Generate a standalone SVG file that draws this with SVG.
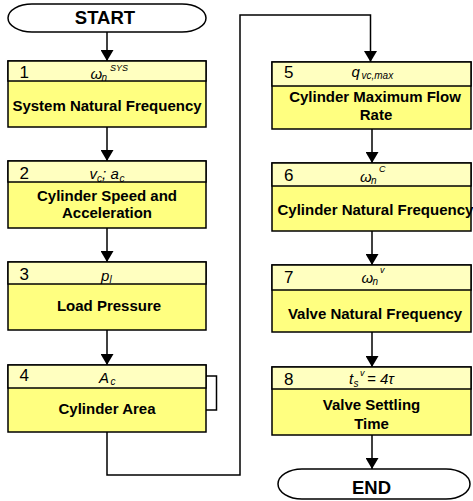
<svg xmlns="http://www.w3.org/2000/svg" width="473" height="501" viewBox="0 0 473 501">
<style>
.body{fill:#FFFF80;stroke:#000;stroke-width:1.5}
.head{fill:#FFFFC0;stroke:#000;stroke-width:1.5}
.term{fill:#fff;stroke:#000;stroke-width:1.5}
.lbl{font-family:"Liberation Sans",Arial,sans-serif;font-weight:bold;font-size:15px;fill:#000;text-anchor:middle}
.ttl{font-family:"Liberation Sans",Arial,sans-serif;font-weight:bold;font-size:18.5px;fill:#000;text-anchor:middle}
.num{font-family:"Liberation Sans",Arial,sans-serif;font-size:17px;fill:#000}
.sym{font-family:"Liberation Sans",Arial,sans-serif;font-style:italic;font-size:15px;fill:#000}
.sub{font-family:"Liberation Sans",Arial,sans-serif;font-style:italic;font-size:10px;fill:#000}
.sup{font-family:"Liberation Sans",Arial,sans-serif;font-style:italic;font-size:9px;fill:#000}
.conn{fill:none;stroke:#000;stroke-width:1.5}
</style>
<defs>
<marker id="arr" viewBox="0 0 11 13" refX="11" refY="6.5" markerWidth="11" markerHeight="13" markerUnits="userSpaceOnUse" orient="auto">
<path d="M0,0 L11,6.5 L0,13 z" fill="#000"/>
</marker>
</defs>

<g id="connectors">
<path class="conn" d="M107,32 V61" marker-end="url(#arr)"/>
<path class="conn" d="M107,127 V161" marker-end="url(#arr)"/>
<path class="conn" d="M107,228 V262" marker-end="url(#arr)"/>
<path class="conn" d="M107,330 V365" marker-end="url(#arr)"/>
<path class="conn" d="M206,376 H216.5 V410 H206"/>
<path class="conn" d="M107,432 V475 H240 V15 H370.5 V62" marker-end="url(#arr)"/>
<path class="conn" d="M372,129 V163" marker-end="url(#arr)"/>
<path class="conn" d="M372,231 V265" marker-end="url(#arr)"/>
<path class="conn" d="M372,332 V367" marker-end="url(#arr)"/>
<path class="conn" d="M372,435 V469" marker-end="url(#arr)"/>
</g>

<g id="start">
<rect class="term" x="8" y="4" width="198" height="28" rx="24" ry="14"/>
<text class="ttl" x="105" y="23.5">START</text>
</g>

<g id="n1">
<rect class="body" x="8" y="61" width="198" height="66"/>
<rect class="head" x="8" y="61" width="198" height="20"/>
<text class="num" x="19.5" y="78">1</text>
<text class="sym" x="90.5" y="78.5">ω</text>
<text class="sub" x="101.5" y="81">n</text>
<text class="sup" x="110" y="71">SYS</text>
<text class="lbl" x="107" y="111">System Natural Frequency</text>
</g>

<g id="n2">
<rect class="body" x="8" y="161" width="198" height="67"/>
<rect class="head" x="8" y="161" width="198" height="21"/>
<text class="num" x="19.5" y="179">2</text>
<text class="sym" x="89.5" y="179">v</text>
<text class="sub" x="97" y="181.5">c</text>
<text class="sym" x="102" y="179">;</text>
<text class="sym" x="110.5" y="179">a</text>
<text class="sub" x="119.5" y="181.5">c</text>
<text class="lbl" x="107" y="201">Cylinder Speed and</text>
<text class="lbl" x="107" y="218">Acceleration</text>
</g>

<g id="n3">
<rect class="body" x="8" y="262" width="198" height="68"/>
<rect class="head" x="8" y="262" width="198" height="22"/>
<text class="num" x="19.5" y="280">3</text>
<text class="sym" x="101" y="280.5">p</text>
<text class="sub" x="109.5" y="282.5">l</text>
<text class="lbl" x="109" y="311">Load Pressure</text>
</g>

<g id="n4">
<rect class="body" x="8" y="365" width="198" height="67"/>
<rect class="head" x="8" y="365" width="198" height="23"/>
<text class="num" x="19.5" y="380.5">4</text>
<text class="sym" x="99" y="382.5">A</text>
<text class="sub" x="110.5" y="384.5">c</text>
<text class="lbl" x="107" y="414">Cylinder Area</text>
</g>

<g id="n5">
<rect class="body" x="272" y="62" width="199" height="67"/>
<rect class="head" x="272" y="62" width="199" height="24"/>
<text class="num" x="284" y="78">5</text>
<text class="sym" x="351.5" y="77">q</text>
<text class="sub" x="361.5" y="79">vc,max</text>
<text class="lbl" x="375" y="102">Cylinder Maximum Flow</text>
<text class="lbl" x="376" y="119.5">Rate</text>
</g>

<g id="n6">
<rect class="body" x="272" y="163" width="199" height="68"/>
<rect class="head" x="272" y="163" width="199" height="23"/>
<text class="num" x="284" y="180.5">6</text>
<text class="sym" x="360" y="181.5">ω</text>
<text class="sub" x="371" y="184">n</text>
<text class="sup" x="379" y="172">C</text>
<text class="lbl" x="277.5" y="214.5" style="text-anchor:start">Cylinder Natural Frequency</text>
</g>

<g id="n7">
<rect class="body" x="272" y="265" width="199" height="67"/>
<rect class="head" x="272" y="265" width="199" height="25"/>
<text class="num" x="284" y="282.5">7</text>
<text class="sym" x="361.5" y="282.5">ω</text>
<text class="sub" x="372.5" y="285">n</text>
<text class="sup" x="380" y="273">v</text>
<text class="lbl" x="375" y="318.5">Valve Natural Frequency</text>
</g>

<g id="n8">
<rect class="body" x="272" y="367" width="199" height="68"/>
<rect class="head" x="272" y="367" width="199" height="22"/>
<text class="num" x="284" y="384.5">8</text>
<text class="sym" x="349" y="384">t</text>
<text class="sub" x="353.5" y="386.5">s</text>
<text class="sup" x="360" y="376">v</text>
<text class="sym" x="367" y="384">= 4τ</text>
<text class="lbl" x="371.5" y="410">Valve Settling</text>
<text class="lbl" x="371.5" y="428.5">Time</text>
</g>

<g id="end">
<rect class="term" x="278" y="469" width="192" height="30" rx="24" ry="15"/>
<text class="ttl" x="371.5" y="493.5">END</text>
</g>
</svg>
